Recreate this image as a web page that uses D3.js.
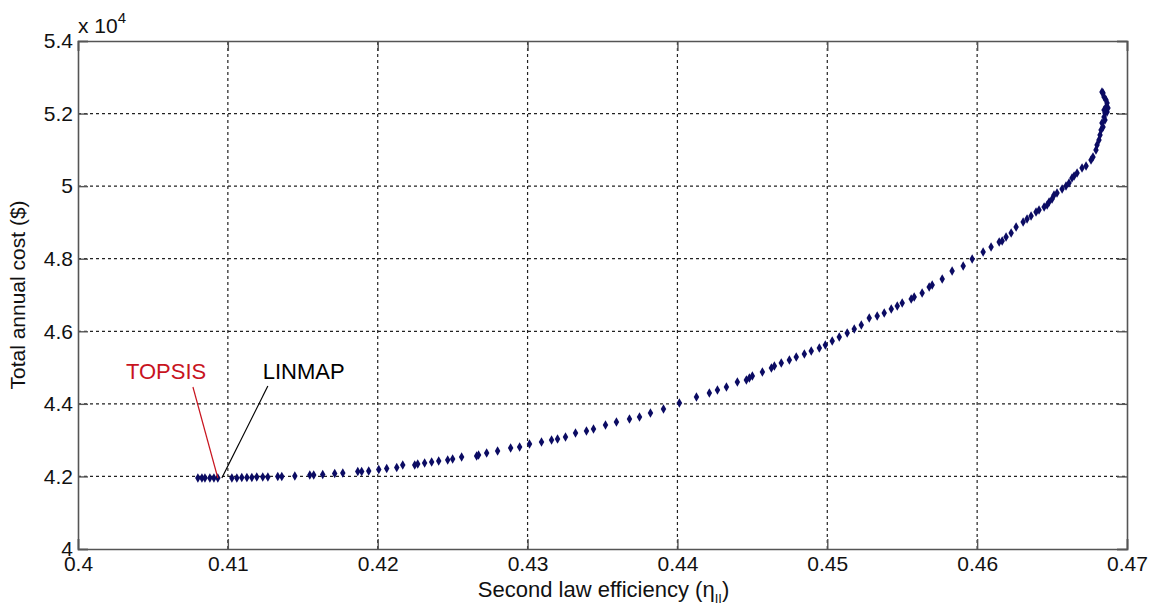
<!DOCTYPE html>
<html>
<head>
<meta charset="utf-8">
<script src="https://cdn.jsdelivr.net/npm/d3@7"></script>
<style>
  body { margin: 0; background: #fff; }
  text { font-family: "Liberation Sans", Arial, sans-serif; }
</style>
</head>
<body>
<div id="vis"></div>
<script>
var width = 1151
var height = 607
var margin = {top: 41, right: 24, bottom: 58, left: 78}

// Pareto front: second law efficiency vs total annual cost ($)
var efficiency = [
  .40800, .40827, .40847, .40880, .40907, .40933, .41027, .41060, .41093, .41127,
  .41160, .41193, .41233, .41267, .41333, .41360, .41447, .41547, .41573, .41633,
  .41713, .41767, .41867, .41893, .41940, .42007, .42060, .42127, .42167, .42247,
  .42267, .42313, .42360, .42407, .42467, .42500, .42560, .42660, .42673, .42727,
  .42800, .42887, .42947, .43013, .43093, .43160, .43200, .43253, .43320, .43393,
  .43440, .43520, .43593, .43680, .43747, .43820, .43907, .44013, .44127, .44213,
  .44267, .44327, .44400, .44460, .44480, .44500, .44567, .44627, .44647, .44693,
  .44747, .44793, .44847, .44893, .44947, .44987, .45033, .45080, .45133, .45180,
  .45227, .45280, .45333, .45380, .45427, .45467, .45500, .45560, .45580, .45633,
  .45680, .45700, .45767, .45833, .45907, .45967, .46040, .46093, .46147, .46167,
  .46193, .46227, .46260, .46307, .46333, .46360, .46393, .46413, .46447, .46467,
  .46480, .46500, .46513, .46533, .46567, .46593, .46613, .46633, .46647, .46667,
  .46700, .46727, .46760, .46773, .46793, .46800, .46813, .46820, .46827, .46840,
  .46833, .46853, .46847, .46853, .46867, .46847, .46873, .46860, .46867, .46860,
  .46847, .46840, .46833
]
var cost = [
  41957, 41957, 41957, 41957, 41957, 41957, 41957, 41957, 41971, 41971,
  41971, 41984, 41984, 41984, 41998, 41998, 42012, 42039, 42039, 42053,
  42081, 42095, 42136, 42136, 42150, 42191, 42219, 42246, 42315, 42315,
  42343, 42370, 42398, 42425, 42453, 42480, 42536, 42563, 42591, 42646,
  42701, 42784, 42811, 42894, 42949, 43004, 43032, 43087, 43197, 43252,
  43307, 43417, 43500, 43583, 43638, 43748, 43858, 44024, 44189, 44299,
  44382, 44465, 44603, 44658, 44713, 44768, 44878, 44988, 45043, 45126,
  45209, 45292, 45374, 45457, 45540, 45622, 45732, 45843, 45953, 46063,
  46173, 46366, 46421, 46504, 46614, 46697, 46780, 46890, 46945, 47055,
  47221, 47276, 47441, 47662, 47799, 47992, 48185, 48323, 48461, 48488,
  48599, 48709, 48874, 49012, 49095, 49177, 49288, 49343, 49426, 49481,
  49563, 49646, 49756, 49811, 49922, 50004, 50087, 50225, 50280, 50363,
  50500, 50555, 50721, 50804, 50996, 51134, 51272, 51410, 51548, 51630,
  51741, 51823, 51906, 52016, 52043, 52099, 52154, 52181, 52292, 52374,
  52457, 52567, 52595
]

var xTicks = [0.4, 0.41, 0.42, 0.43, 0.44, 0.45, 0.46, 0.47]
var yTicks = [4, 4.2, 4.4, 4.6, 4.8, 5, 5.2, 5.4]   // x 10^4

// selected points and their labels
var labels = ["TOPSIS", "LINMAP"]
var labelColors = ["#c8141e", "#000"]
var labelPos = [[0.4032, 44685], [0.41233, 44685]]
var lineStart = [[0.40767, 44465], [0.41267, 44492]]
var lineEnd = [[0.40933, 41957], [0.40960, 41957]]

var data = efficiency.map(function(d, i) { return {x: d, y: cost[i] / 1e4} })

var svg = d3.select("#vis")
  .append("svg")
  .attr("width", width)
  .attr("height", height)
  .style("display", "block")

var x = d3.scaleLinear().domain([0.4, 0.47]).range([margin.left, width - margin.right])
var y = d3.scaleLinear().domain([4, 5.4]).range([height - margin.bottom, margin.top])

var x0 = margin.left, x1 = width - margin.right
var y0 = height - margin.bottom, y1 = margin.top

// grid
svg.append("g")
  .selectAll("line")
  .data(xTicks.slice(1, -1))
  .enter().append("line")
    .attr("x1", d => x(d)).attr("x2", d => x(d))
    .attr("y1", y0).attr("y2", y1)
    .attr("stroke", "#222")
    .attr("stroke-width", 1.2)
    .attr("stroke-dasharray", "3,3")

svg.append("g")
  .selectAll("line")
  .data(yTicks.slice(1, -1))
  .enter().append("line")
    .attr("x1", x0).attr("x2", x1)
    .attr("y1", d => y(d)).attr("y2", d => y(d))
    .attr("stroke", "#222")
    .attr("stroke-width", 1.2)
    .attr("stroke-dasharray", "3,3")

// axes (ticks inward, box all around)
var tickLen = 10
svg.append("g")
  .attr("transform", `translate(0,${y0})`)
  .call(d3.axisBottom(x).tickValues(xTicks).tickSize(-tickLen).tickPadding(7).tickFormat(d3.format("")))
svg.append("g")
  .attr("transform", `translate(0,${y1})`)
  .call(d3.axisTop(x).tickValues(xTicks).tickSize(-tickLen).tickFormat(""))
svg.append("g")
  .attr("transform", `translate(${x0},0)`)
  .call(d3.axisLeft(y).tickValues(yTicks).tickSize(-tickLen).tickPadding(5).tickFormat(d3.format("")))
svg.append("g")
  .attr("transform", `translate(${x1},0)`)
  .call(d3.axisRight(y).tickValues(yTicks).tickSize(-tickLen).tickFormat(""))

svg.selectAll(".domain").attr("stroke", "#555").attr("stroke-width", 1.6)
svg.selectAll(".tick line").attr("stroke", "#555").attr("stroke-width", 1.4)
svg.selectAll(".tick text")
  .style("font-size", "21px")
  .attr("fill", "#111")

// exponent
var expo = svg.append("text")
  .attr("x", x0)
  .attr("y", y1 - 8)
  .style("font-size", "21px")
  .attr("fill", "#111")
expo.append("tspan").text("x 10")
expo.append("tspan").text("4").attr("dy", -10).style("font-size", "15px")

// axis titles
var xt = svg.append("text")
  .attr("x", (x0 + x1) / 2 + 1)
  .attr("y", height - 10)
  .attr("text-anchor", "middle")
  .style("font-size", "22px")
  .attr("fill", "#111")
xt.append("tspan").text("Second law efficiency (\u03B7")
xt.append("tspan").text("II").attr("dy", 6).style("font-size", "13px")
xt.append("tspan").text(")").attr("dy", -6)

svg.append("text")
  .attr("transform", `translate(25,${(y0 + y1) / 2}) rotate(-90)`)
  .attr("text-anchor", "middle")
  .style("font-size", "21px")
  .attr("fill", "#111")
  .text("Total annual cost ($)")

// points
svg.append("g")
  .selectAll("path")
  .data(data)
  .enter().append("path")
    .attr("d", d3.symbol().type(d3.symbolDiamond).size(26))
    .attr("transform", d => `translate(${x(d.x)},${y(d.y)})`)
    .attr("fill", "#0b0b63")

// annotation leaders and labels
svg.append("g")
  .selectAll("line")
  .data(labels)
  .enter().append("line")
    .attr("x1", (d, i) => x(lineStart[i][0]))
    .attr("y1", (d, i) => y(lineStart[i][1] / 1e4))
    .attr("x2", (d, i) => x(lineEnd[i][0]))
    .attr("y2", (d, i) => y(lineEnd[i][1] / 1e4))
    .attr("stroke", (d, i) => labelColors[i])
    .attr("stroke-width", 1.2)

svg.append("g")
  .selectAll("text")
  .data(labels)
  .enter().append("text")
    .attr("x", (d, i) => x(labelPos[i][0]))
    .attr("y", (d, i) => y(labelPos[i][1] / 1e4))
    .attr("fill", (d, i) => labelColors[i])
    .style("font-size", "22px")
    .text(d => d)
</script>
</body>
</html>
